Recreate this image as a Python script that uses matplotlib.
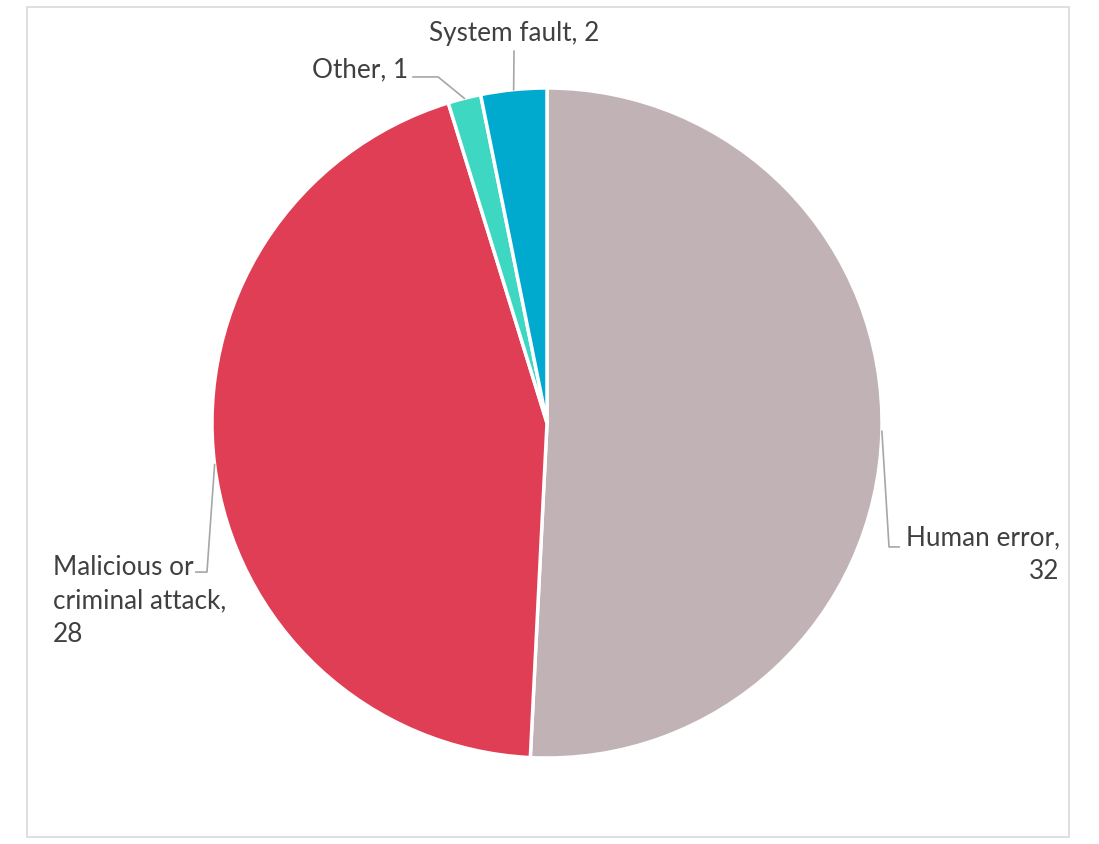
import numpy as np
import matplotlib.pyplot as plt
from matplotlib.patches import Rectangle

labels = ["Human error", "Malicious or\ncriminal attack", "Other", "System fault"]
values = [32, 28, 1, 2]
colors = ["#C1B2B5", "#E03E54", "#3ED8C2", "#00A9CE"]
# value goes on its own line for the two big slices
separators = [",\n", ",\n", ", ", ", "]

plt.rcParams["font.family"] = ["Lato", "DejaVu Sans"]

fig = plt.figure(figsize=(10.99, 8.45), dpi=100)
fig.patches.append(Rectangle((27 / 1099, 7 / 845), 1042 / 1099, 830 / 845,
                             transform=fig.transFigure, fill=False,
                             edgecolor="#d9d9d9", linewidth=1.2))

ax = fig.add_axes([212 / 1099, 86 / 845, 670 / 1099, 670 / 845])
wedges, _ = ax.pie(values, colors=colors, startangle=90, counterclock=False,
                   wedgeprops=dict(edgecolor="white", linewidth=2.5))
ax.set_xlim(-1, 1)
ax.set_ylim(-1, 1)
ax.set_aspect("equal")
ax.axis("off")

# leader line bend/end points and label anchors (axes data units)
leaders = [
    [(1.021, -0.370), (1.051, -0.370)],
    [(-1.015, -0.445), (-1.048, -0.445)],
    [(-0.325, 1.033), (-0.400, 1.033)],
    [(-0.0985, 1.110)],
]
texts = [
    dict(x=1.531, y=-0.390, ha="right", va="center", multialignment="right"),
    dict(x=-1.475, y=-0.392, ha="left", va="top", multialignment="left"),
    dict(x=-0.415, y=1.057, ha="right", va="center", multialignment="center"),
    dict(x=-0.0985, y=1.167, ha="center", va="center", multialignment="center"),
]

for w, lab, val, sep, pts, t in zip(wedges, labels, values, separators, leaders, texts):
    mid = np.deg2rad((w.theta1 + w.theta2) / 2)
    xs = [np.cos(mid)] + [p[0] for p in pts]
    ys = [np.sin(mid)] + [p[1] for p in pts]
    ax.plot(xs, ys, color="#a6a6a6", lw=1.2, clip_on=False)
    ax.text(t["x"], t["y"], f"{lab}{sep}{val}", ha=t["ha"], va=t["va"],
            multialignment=t["multialignment"], fontsize=18.8,
            color="#404040", linespacing=1.42, clip_on=False)

fig.savefig("out.png", dpi=100)
